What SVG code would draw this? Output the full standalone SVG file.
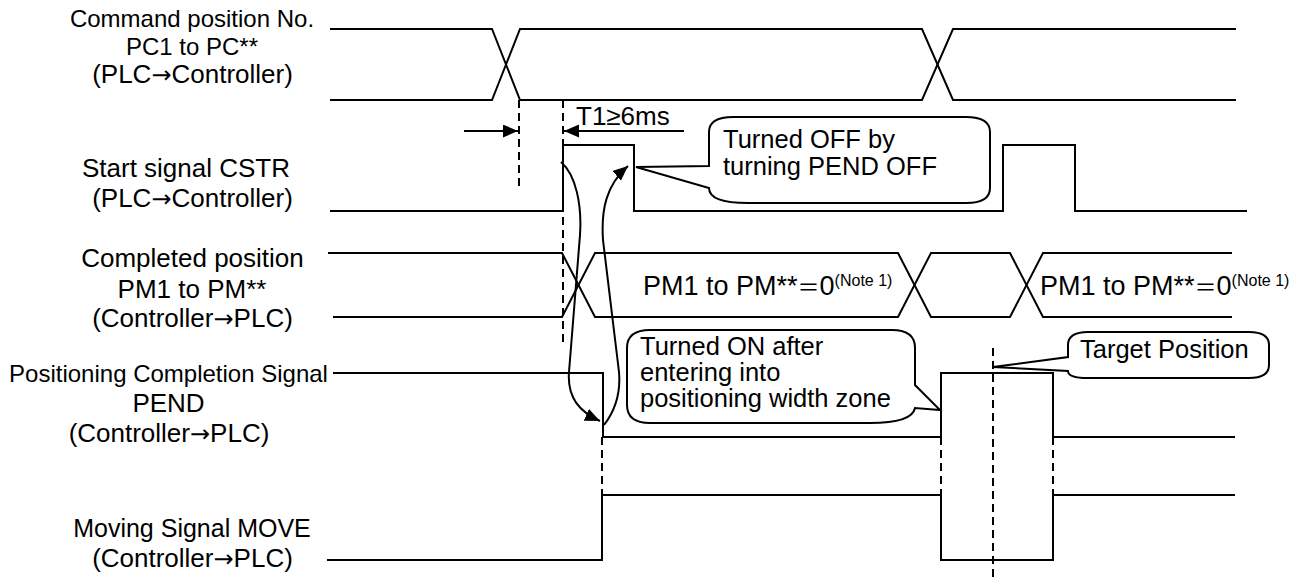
<svg xmlns="http://www.w3.org/2000/svg" width="1303" height="578" viewBox="0 0 1303 578">
<style>
.sig{fill:none;stroke:#000;stroke-width:2;stroke-linejoin:miter}
.dash{fill:none;stroke:#000;stroke-width:2;stroke-dasharray:8 5}
.arr{fill:none;stroke:#000;stroke-width:2}
.co{fill:#fff;stroke:#000;stroke-width:2}
text{font-family:"Liberation Sans",Arial,sans-serif;fill:#000}
.lbl{text-anchor:middle;font-size:26px}
.sm{font-size:24px}
.t{font-size:25.5px}
.ar{font-family:"DejaVu Sans",sans-serif;font-size:24px}
.fw{font-family:"Noto Sans CJK JP",sans-serif;font-size:22px}
.sup{font-size:16px}
</style>
<defs>
<marker id="ah" markerUnits="userSpaceOnUse" markerWidth="16" markerHeight="14" refX="15" refY="6.5" orient="auto">
<path d="M0,0 L15,6.5 L0,13 Z" fill="#000"/>
</marker>
</defs>
<rect width="1303" height="578" fill="#fff"/>

<g id="labels">
<text class="lbl sm" x="192" y="27">Command position No.</text>
<text class="lbl sm" x="192" y="55">PC1 to PC**</text>
<text class="lbl" x="192.5" y="83">(PLC<tspan class="ar">→</tspan>Controller)</text>
<text class="lbl" x="186" y="177">Start signal CSTR</text>
<text class="lbl" x="192.5" y="207">(PLC<tspan class="ar">→</tspan>Controller)</text>
<text class="lbl" x="192.5" y="267">Completed position</text>
<text class="lbl" x="192" y="298">PM1 to PM**</text>
<text class="lbl" x="192.5" y="327">(Controller<tspan class="ar">→</tspan>PLC)</text>
<text class="lbl sm" x="168.5" y="382">Positioning Completion Signal</text>
<text class="lbl" x="168.5" y="412">PEND</text>
<text class="lbl" x="169" y="442">(Controller<tspan class="ar">→</tspan>PLC)</text>
<text class="lbl" x="192" y="537" style="font-size:25px">Moving Signal MOVE</text>
<text class="lbl" x="192.5" y="567">(Controller<tspan class="ar">→</tspan>PLC)</text>
</g>

<g id="sig-cmd">
<path class="sig" d="M330,29 H492 L520,100 H922 L953,29 H1236"/>
<path class="sig" d="M330,100 H492 L520,29 H922 L953,100 H1236"/>
</g>
<g id="sig-cstr">
<path class="sig" d="M330,211 H563 V145 H634 V211 H1003 V145 H1075 V211 H1247"/>
</g>
<g id="sig-pm">
<path class="sig" d="M328,253 H562 L595,317 H898 L931,253 H1010 L1043,317 H1232"/>
<path class="sig" d="M333,317 H562 L595,253 H898 L931,317 H1010 L1043,253 H1232"/>
<text x="643" y="295" style="font-size:27px">PM1 to PM**<tspan class="fw">＝</tspan>0<tspan class="sup" dy="-9">(Note 1)</tspan></text>
<text x="1040" y="295" style="font-size:27px">PM1 to PM**<tspan class="fw">＝</tspan>0<tspan class="sup" dy="-9">(Note 1)</tspan></text>
</g>
<g id="sig-pend">
<path class="sig" d="M333,373 H603 V437 H941 V373 H1053 V437 H1235"/>
</g>
<g id="sig-move">
<path class="sig" d="M327,560 H602 V495 H941 V560 H1053 V495 H1235"/>
</g>

<g id="connectors">
<line class="dash" x1="519" y1="100" x2="519" y2="188"/>
<line class="dash" x1="563" y1="100" x2="563" y2="345"/>
<line class="dash" x1="602" y1="437" x2="602" y2="495"/>
<line class="dash" x1="941" y1="437" x2="941" y2="495"/>
<line class="dash" x1="1053" y1="437" x2="1053" y2="495"/>
<line class="dash" x1="993" y1="348" x2="993" y2="578"/>
<line class="arr" x1="464" y1="131" x2="518" y2="131" marker-end="url(#ah)"/>
<line class="arr" x1="684" y1="131" x2="564" y2="131" marker-end="url(#ah)"/>
<path class="arr" d="M561,162 C576,175 582,205 580,235 L569,372 C567,398 580,412 600,421" marker-end="url(#ah)"/>
<path class="arr" d="M604,425 C614,412 621,395 619,372 L603,240 C601,210 606,185 628,166" marker-end="url(#ah)"/>
</g>

<g id="t1">
<text x="576" y="125" style="font-size:26px">T1≥6ms</text>
</g>

<g id="callout-off">
<path class="co" d="M733,117 H966 Q990,117 990,132 V188 Q990,203 966,203 H748 Q709,203 709,188 L636,167 L709,166 V132 Q709,117 733,117 Z"/>
<text class="t" x="723" y="148">Turned OFF by</text>
<text class="t" x="723" y="175">turning PEND OFF</text>
</g>
<g id="callout-on">
<path class="co" d="M650,330 H892 Q915,330 915,348 V385 L940,410 L915,408 Q912,423 870,423 H650 Q627,423 627,405 V348 Q627,330 650,330 Z"/>
<text class="t" x="640" y="355">Turned ON after</text>
<text class="t" x="640" y="381">entering into</text>
<text class="t" x="640" y="407">positioning width zone</text>
</g>
<g id="callout-target">
<path class="co" d="M1088,332 H1249 Q1269,332 1269,345 V365 Q1269,378 1249,378 H1088 Q1068,378 1068,371 L993,367 L1068,357 V345 Q1068,332 1088,332 Z"/>
<text class="t" x="1080" y="358">Target Position</text>
</g>
</svg>
